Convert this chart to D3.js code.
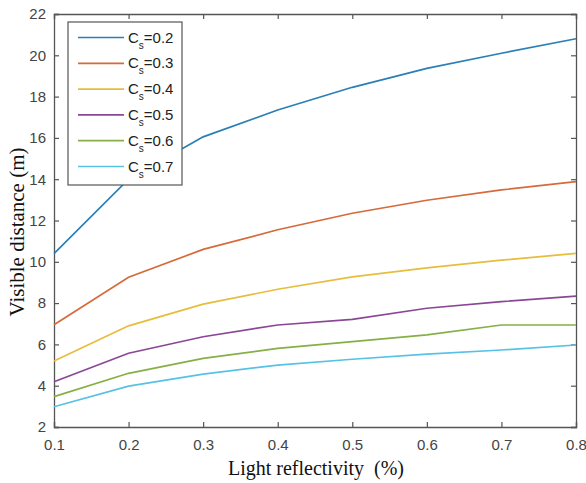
<!DOCTYPE html>
<html>
<head>
<meta charset="utf-8">
<script src="https://cdn.jsdelivr.net/npm/d3@7"></script>
<style>
  body { margin: 0; background: #fff; }
  svg { display: block; }
</style>
</head>
<body>
<div id="chart"></div>
<script>
// reflectivity values on the x axis
var reflectivity = [0.1, 0.2, 0.3, 0.4, 0.5, 0.6, 0.7, 0.8];

// one curve per Cs value
var csLabels = ["0.2", "0.3", "0.4", "0.5", "0.6", "0.7"];
var cs02 = [10.4, 14.0, 16.05, 17.35, 18.45, 19.37, 20.1, 20.8];
var cs03 = [6.95, 9.25, 10.6, 11.55, 12.35, 12.98, 13.48, 13.88];
var cs04 = [5.2, 6.9, 7.95, 8.67, 9.27, 9.71, 10.08, 10.41];
var cs05 = [4.19, 5.57, 6.37, 6.94, 7.21, 7.75, 8.07, 8.34];
var cs06 = [3.47, 4.6, 5.32, 5.81, 6.13, 6.46, 6.94, 6.94];
var cs07 = [2.98, 3.98, 4.56, 5.0, 5.28, 5.53, 5.73, 5.97];
var seriesValues = [cs02, cs03, cs04, cs05, cs06, cs07];

var xTicks = [0.1, 0.2, 0.3, 0.4, 0.5, 0.6, 0.7, 0.8];
var yTicks = [2, 4, 6, 8, 10, 12, 14, 16, 18, 20, 22];

var colors = ["#2a7fb6", "#d66a3a", "#e7bd3e", "#8a4796", "#86b045", "#56c2e6"];

var width = 586, height = 483;
var margin = {top: 14, right: 10, bottom: 56, left: 54};
var plotW = width - margin.left - margin.right;
var plotH = height - margin.top - margin.bottom;

var svg = d3.select("#chart").append("svg")
    .attr("width", width)
    .attr("height", height);

var g = svg.append("g")
    .attr("transform", "translate(" + margin.left + "," + margin.top + ")");

var x = d3.scaleLinear().domain([0.1, 0.8]).range([0, plotW]);
var y = d3.scaleLinear().domain([2, 22]).range([plotH, 0]);

var axisColor = "#555";
var tickFont = "Arial, 'Liberation Sans', sans-serif";
var titleFont = "'Liberation Serif', 'Times New Roman', serif";

/*****************  Axes **********************/

var xAxis = g.append("g")
    .attr("transform", "translate(0," + plotH + ")")
    .call(d3.axisBottom(x).tickValues(xTicks).tickSize(-5).tickPadding(12).tickFormat(d3.format(".1f")));

var yAxis = g.append("g")
    .call(d3.axisLeft(y).tickValues(yTicks).tickSize(-5).tickPadding(8).tickFormat(d3.format("d")));

var xTop = g.append("g")
    .call(d3.axisTop(x).tickValues(xTicks).tickSize(-5).tickFormat(""));

var yRight = g.append("g")
    .attr("transform", "translate(" + plotW + ",0)")
    .call(d3.axisRight(y).tickValues(yTicks).tickSize(-5).tickFormat(""));

[xAxis, yAxis, xTop, yRight].forEach(function (a) {
    a.select(".domain").attr("stroke", axisColor).attr("stroke-width", 1.3);
    a.selectAll(".tick line").attr("stroke", axisColor).attr("stroke-width", 1.2);
    a.selectAll(".tick text")
        .attr("fill", "#444")
        .style("font-family", tickFont)
        .style("font-size", "15px");
});

/*****************  Lines **********************/

var line = d3.line()
    .x(function (d, i) { return x(reflectivity[i]); })
    .y(function (d) { return y(d); });

g.selectAll(".curve")
    .data(seriesValues)
    .enter()
    .append("path")
    .attr("class", "curve")
    .attr("d", line)
    .attr("fill", "none")
    .attr("stroke", function (d, i) { return colors[i]; })
    .attr("stroke-width", 1.7);

/*****************  Legend **********************/

var legend = g.append("g")
    .attr("transform", "translate(14,8)");

legend.append("rect")
    .attr("x", 0)
    .attr("y", 0)
    .attr("width", 114)
    .attr("height", 163)
    .attr("fill", "#fff")
    .attr("stroke", axisColor)
    .attr("stroke-width", 1.2);

var items = legend.selectAll(".item")
    .data(csLabels)
    .enter()
    .append("g")
    .attr("class", "item")
    .attr("transform", function (d, i) { return "translate(0," + (15.5 + i * 25.8) + ")"; });

items.append("line")
    .attr("x1", 10)
    .attr("x2", 56)
    .attr("y1", 0)
    .attr("y2", 0)
    .attr("stroke", function (d, i) { return colors[i]; })
    .attr("stroke-width", 1.7);

var label = items.append("text")
    .attr("x", 60)
    .attr("y", 5)
    .attr("fill", "#222")
    .style("font-family", tickFont)
    .style("font-size", "15px");

label.append("tspan").text("C");
label.append("tspan").attr("dy", 6).style("font-size", "10px").text("s");
label.append("tspan").attr("dy", -6).text(function (d) { return "=" + d; });

/*****************  Titles **********************/

svg.append("text")
    .attr("x", 316)
    .attr("y", 475)
    .attr("text-anchor", "middle")
    .attr("fill", "#111")
    .style("white-space", "pre")
    .style("font-family", titleFont)
    .style("font-size", "20px")
    .text("Light reflectivity  (%)");

svg.append("text")
    .attr("transform", "translate(24,232) rotate(-90)")
    .attr("text-anchor", "middle")
    .attr("fill", "#111")
    .style("font-family", titleFont)
    .style("font-size", "21px")
    .text("Visible distance (m)");
</script>
</body>
</html>
